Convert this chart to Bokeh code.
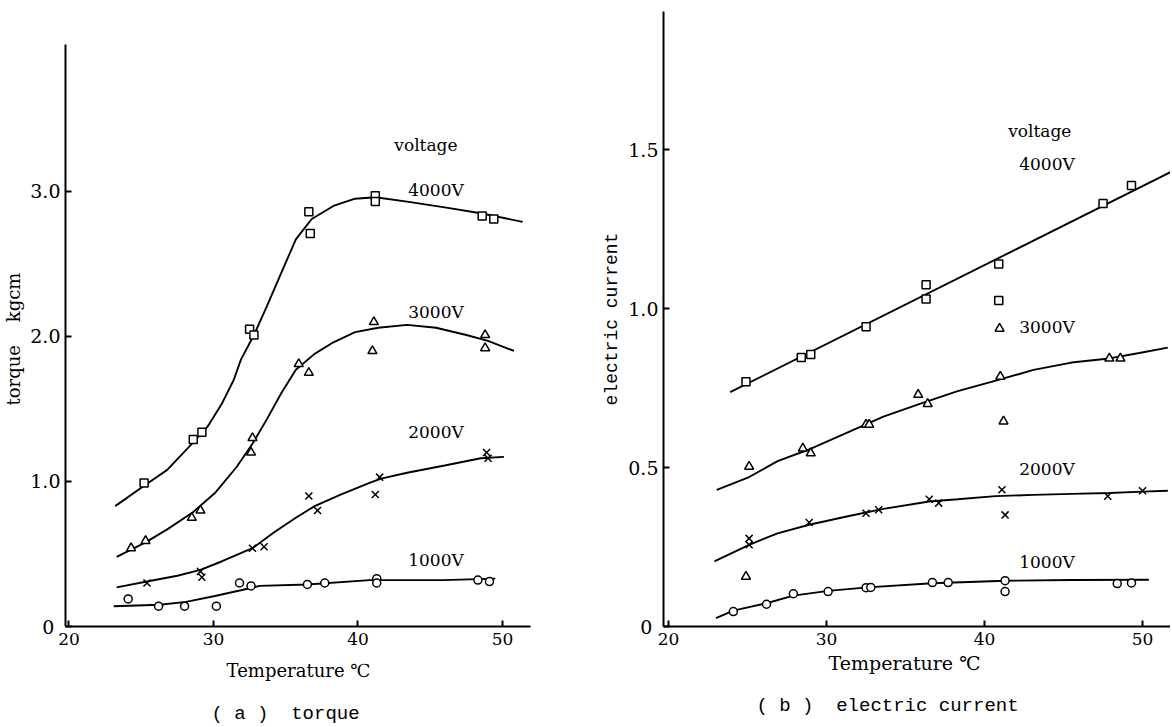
from bokeh.plotting import figure
from bokeh.layouts import row, column
from bokeh.models import Label, FixedTicker
from bokeh.embed import file_html
from bokeh.resources import INLINE

# ---------------- (a) torque : measured points ----------------
tq4000_t = [25.2, 28.6, 29.2, 32.5, 32.8, 36.6, 36.7, 41.2, 41.2, 48.6, 49.4]
tq4000_v = [0.99, 1.29, 1.34, 2.05, 2.01, 2.86, 2.71, 2.97, 2.93, 2.83, 2.81]
tq3000_t = [24.3, 25.3, 28.5, 29.1, 32.6, 32.7, 35.9, 36.6, 41.0, 41.1, 48.8, 48.8]
tq3000_v = [0.54, 0.59, 0.75, 0.80, 1.20, 1.30, 1.81, 1.75, 1.90, 2.10, 2.01, 1.92]
tq2000_t = [25.4, 29.1, 29.2, 32.7, 33.5, 36.6, 37.2, 41.2, 41.5, 48.9, 49.0]
tq2000_v = [0.30, 0.38, 0.34, 0.54, 0.55, 0.90, 0.80, 0.91, 1.03, 1.20, 1.16]
tq1000_t = [24.1, 26.2, 28.0, 30.2, 31.8, 32.6, 36.5, 37.7, 41.3, 41.3, 48.3, 49.1]
tq1000_v = [0.19, 0.14, 0.14, 0.14, 0.30, 0.28, 0.29, 0.30, 0.33, 0.30, 0.32, 0.31]

# (a) torque : fitted curves
tq4000_ct = [23.2, 25.2, 26.8, 28.6, 29.6, 30.6, 31.4, 31.9, 32.8, 33.7, 34.7, 35.7, 36.8, 38.3, 39.8, 41.2, 43.4, 46.0, 48.5, 51.4]
tq4000_cv = [0.83, 0.97, 1.08, 1.27, 1.38, 1.54, 1.70, 1.84, 2.01, 2.21, 2.44, 2.67, 2.81, 2.90, 2.95, 2.96, 2.93, 2.89, 2.85, 2.79]
tq3000_ct = [23.3, 25.3, 26.8, 28.6, 30.1, 31.6, 32.7, 33.7, 34.7, 35.7, 37.0, 38.3, 39.8, 41.4, 43.4, 45.4, 47.5, 49.0, 50.8]
tq3000_cv = [0.48, 0.58, 0.67, 0.79, 0.92, 1.10, 1.26, 1.43, 1.61, 1.77, 1.88, 1.96, 2.03, 2.06, 2.08, 2.06, 2.01, 1.97, 1.90]
tq2000_ct = [23.3, 25.4, 27.5, 29.1, 30.6, 32.7, 34.2, 35.7, 37.0, 38.8, 40.8, 41.6, 43.4, 46.0, 48.5, 50.1]
tq2000_cv = [0.27, 0.31, 0.35, 0.39, 0.45, 0.54, 0.65, 0.75, 0.83, 0.91, 0.99, 1.02, 1.06, 1.11, 1.16, 1.17]
tq1000_ct = [23.1, 26.3, 28.1, 30.1, 31.9, 33.2, 36.5, 40.8, 45.9, 49.5]
tq1000_cv = [0.14, 0.15, 0.17, 0.21, 0.25, 0.28, 0.29, 0.32, 0.32, 0.33]

# ---------------- (b) electric current : measured points ----------------
ec4000_t = [24.9, 28.4, 29.0, 32.5, 36.3, 36.3, 40.9, 40.9, 47.5, 49.3]
ec4000_v = [0.77, 0.846, 0.855, 0.943, 1.075, 1.03, 1.14, 1.025, 1.33, 1.387]
ec3000_t = [24.9, 25.1, 28.5, 29.0, 32.5, 32.7, 35.8, 36.4, 40.95, 41.0, 41.2, 47.9, 48.6]
ec3000_v = [0.157, 0.503, 0.56, 0.545, 0.635, 0.635, 0.729, 0.70, 0.937, 0.786, 0.645, 0.843, 0.843]
ec2000_t = [25.1, 25.1, 28.9, 32.5, 33.3, 36.5, 37.1, 41.1, 41.3, 47.8, 50.0]
ec2000_v = [0.277, 0.257, 0.327, 0.356, 0.367, 0.40, 0.388, 0.43, 0.351, 0.41, 0.427]
ec1000_t = [24.1, 26.2, 27.9, 30.1, 32.5, 32.8, 36.7, 37.7, 41.3, 41.3, 48.4, 49.3]
ec1000_v = [0.047, 0.07, 0.103, 0.11, 0.122, 0.123, 0.138, 0.138, 0.144, 0.11, 0.135, 0.137]

# (b) electric current : fitted curves
ec4000_ct = [23.9, 51.9]
ec4000_cv = [0.737, 1.432]
ec3000_ct = [23.05, 25.1, 26.9, 28.8, 31.2, 33.6, 35.9, 38.3, 41.0, 43.1, 45.5, 47.9, 49.8, 51.6]
ec3000_cv = [0.43, 0.47, 0.52, 0.555, 0.607, 0.66, 0.70, 0.74, 0.777, 0.807, 0.83, 0.843, 0.86, 0.877]
ec2000_ct = [22.9, 25.1, 26.9, 28.9, 31.2, 33.6, 36.5, 38.3, 40.7, 43.1, 45.5, 47.9, 50.0, 51.6]
ec2000_cv = [0.205, 0.257, 0.293, 0.32, 0.345, 0.37, 0.393, 0.40, 0.41, 0.414, 0.417, 0.42, 0.424, 0.427]
ec1000_ct = [23.0, 24.1, 26.2, 27.9, 30.1, 32.6, 36.7, 41.3, 45.5, 50.4]
ec1000_cv = [0.026, 0.05, 0.073, 0.097, 0.112, 0.123, 0.136, 0.144, 0.146, 0.147]

NB = "\u00a0"
x_ticks = [20, 30, 40, 50]
torque_ticks = [0, 1, 2, 3]
torque_tick_labels = ["0" + NB, "1.0", "2.0", "3.0"]
current_ticks = [0, 0.5, 1.0, 1.5]
current_tick_labels = ["0" + NB, "0.5", "1.0", "1.5"]
voltages = ["4000V", "3000V", "2000V", "1000V"]

SERIF = "DejaVu Serif"
MONO = "Liberation Mono"

LEFT_W, RIGHT_W = 597, 573
PLOT_H, CAP_H = 652, 74


def style(p, yticks, ylabels):
    p.xgrid.visible = False
    p.ygrid.visible = False
    p.outline_line_color = None
    p.background_fill_color = "white"
    p.border_fill_color = "white"
    p.xaxis.ticker = FixedTicker(ticks=x_ticks)
    p.yaxis.ticker = FixedTicker(ticks=yticks)
    p.yaxis.major_label_overrides = {t: l for t, l in zip(yticks, ylabels)}
    for ax in (p.xaxis[0], p.yaxis[0]):
        ax.axis_line_width = 2
        ax.axis_line_color = "black"
        ax.major_tick_in = 6
        ax.major_tick_out = 0
        ax.major_tick_line_width = 2
        ax.minor_tick_line_color = None
        ax.major_label_text_font = SERIF
        ax.major_label_text_color = "black"
        ax.axis_label_text_font_style = "normal"
        ax.axis_label_text_color = "black"
    p.xaxis.major_label_text_font_size = "17px"
    p.xaxis.major_label_standoff = 6
    p.yaxis.major_label_text_font_size = "19px"
    p.yaxis.major_label_standoff = 5


def series(p, ct, cv, t, v, marker, size):
    p.line(ct, cv, line_color="black", line_width=1.9)
    p.scatter(t, v, marker=marker, size=size, line_color="black",
              fill_color="white", line_width=1.5)


def lab(p, text, x, y, size="17px", font=SERIF):
    p.add_layout(Label(x=x, y=y, text=text, text_font=font,
                       text_font_size=size, text_color="black",
                       text_align="center", text_baseline="middle"))


def caption_fig(w):
    q = figure(width=w, height=CAP_H, x_range=(0, w), y_range=(0, CAP_H),
               min_border=0, x_axis_location=None, y_axis_location=None,
               output_backend="svg", toolbar_location=None)
    q.xgrid.visible = False
    q.ygrid.visible = False
    q.outline_line_color = None
    return q


# ---------------- left figure ----------------
p1 = figure(width=LEFT_W, height=PLOT_H, x_range=(19.76, 51.94), y_range=(0, 4.241),
            min_border_left=65, min_border_right=67, min_border_top=11,
            min_border_bottom=26, output_backend="svg", toolbar_location=None)
style(p1, torque_ticks, torque_tick_labels)
p1.yaxis.bounds = (0, 4.01)
series(p1, tq4000_ct, tq4000_cv, tq4000_t, tq4000_v, "square", 8)
series(p1, tq3000_ct, tq3000_cv, tq3000_t, tq3000_v, "triangle", 9)
series(p1, tq2000_ct, tq2000_cv, tq2000_t, tq2000_v, "x", 10)
series(p1, tq1000_ct, tq1000_cv, tq1000_t, tq1000_v, "circle", 8)
lab(p1, "voltage", 44.7, 3.32)
for txt, yy in zip(voltages, [3.01, 2.17, 1.34, 0.46]):
    lab(p1, txt, 45.4, yy)
p1.yaxis.axis_label = "torque" + NB * 4 + "kgcm" + NB * 7
p1.yaxis.axis_label_text_font = SERIF
p1.yaxis.axis_label_text_font_size = "18px"
p1.yaxis.axis_label_standoff = 3

q1 = caption_fig(LEFT_W)
lab(q1, "Temperature ℃", 298, 56, size="18px")
lab(q1, "(" + NB + "a" + NB + ")" + NB + NB + "torque", 285, 13, size="19px", font=MONO)

# ---------------- right figure ----------------
p2 = figure(width=RIGHT_W, height=PLOT_H, x_range=(19.68, 51.77), y_range=(0, 1.934),
            min_border_left=66, min_border_right=0, min_border_top=11,
            min_border_bottom=26, output_backend="svg", toolbar_location=None)
style(p2, current_ticks, current_tick_labels)
series(p2, ec4000_ct, ec4000_cv, ec4000_t, ec4000_v, "square", 8)
series(p2, ec3000_ct, ec3000_cv, ec3000_t, ec3000_v, "triangle", 9)
series(p2, ec2000_ct, ec2000_cv, ec2000_t, ec2000_v, "x", 10)
series(p2, ec1000_ct, ec1000_cv, ec1000_t, ec1000_v, "circle", 8)
lab(p2, "voltage", 43.5, 1.557)
for txt, yy in zip(voltages, [1.453, 0.943, 0.494, 0.204]):
    lab(p2, txt, 43.95, yy)
p2.yaxis.axis_label = "electric" + NB + "current"
p2.yaxis.axis_label_text_font = MONO
p2.yaxis.axis_label_text_font_size = "18px"
p2.yaxis.axis_label_standoff = 3

q2 = caption_fig(RIGHT_W)
lab(q2, "Temperature ℃", 307, 64, size="19px")
lab(q2, "(" + NB + "b" + NB + ")" + NB + NB + "electric" + NB + "current", 290, 21, size="19px", font=MONO)

layout = column(row(p1, p2), row(q1, q2))
open("out.html", "w").write(file_html(layout, INLINE))
